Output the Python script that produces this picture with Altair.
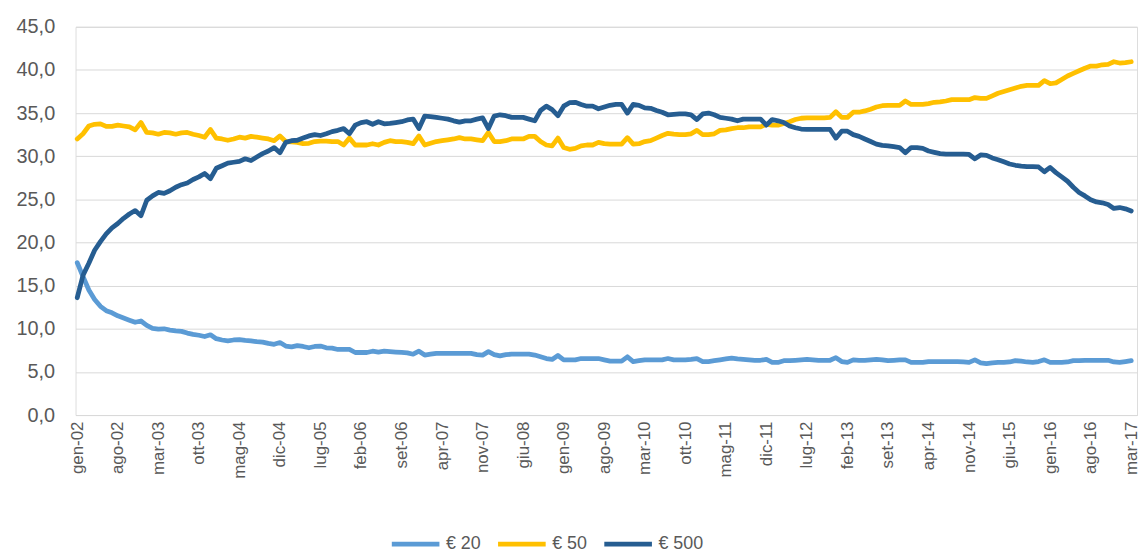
import altair as alt
import pandas as pd

# Month labels (Italian abbreviations), Jan 2002 .. Mar 2017
month_names = ["gen", "feb", "mar", "apr", "mag", "giu", "lug", "ago", "set", "ott", "nov", "dic"]
first_year = 2002
n_months = 183
labels = [f"{month_names[k % 12]}-{(first_year + k // 12) % 100:02d}" for k in range(n_months)]

series_names = ["€ 20", "€ 50", "€ 500"]
series_colors = ["#5B9BD5", "#FFC000", "#265D91"]

eur20 = [
    17.65, 16.05, 14.5, 13.4, 12.6, 12.1, 11.85, 11.5, 11.25, 11.0, 10.75, 10.9,
    10.4, 10.05, 9.95, 10.0, 9.85, 9.75, 9.7, 9.5, 9.35, 9.25, 9.1, 9.3,
    8.85, 8.7, 8.6, 8.7, 8.75, 8.65, 8.6, 8.5, 8.45, 8.3, 8.2, 8.4,
    8.0, 7.9, 8.05, 7.95, 7.8, 7.95, 8.0, 7.8, 7.75, 7.6, 7.6, 7.6,
    7.25, 7.25, 7.25, 7.4, 7.3, 7.4, 7.35, 7.3, 7.25, 7.2, 7.05, 7.4,
    6.95, 7.05, 7.15, 7.15, 7.15, 7.15, 7.15, 7.15, 7.15, 7.0, 6.95, 7.35,
    7.0, 6.85, 7.0, 7.05, 7.05, 7.05, 7.05, 6.95, 6.75, 6.55, 6.45, 6.9,
    6.4, 6.4, 6.4, 6.55, 6.55, 6.55, 6.55, 6.4, 6.25, 6.25, 6.25, 6.75,
    6.2, 6.3, 6.4, 6.4, 6.4, 6.4, 6.55, 6.4, 6.4, 6.4, 6.45, 6.55,
    6.2, 6.2, 6.3, 6.4, 6.5, 6.6, 6.5, 6.45, 6.4, 6.35, 6.35, 6.45,
    6.1, 6.1, 6.3, 6.3, 6.35, 6.4, 6.45, 6.4, 6.35, 6.35, 6.35, 6.65,
    6.2, 6.1, 6.4, 6.35, 6.35, 6.4, 6.45, 6.4, 6.3, 6.35, 6.4, 6.4,
    6.1, 6.1, 6.1, 6.2, 6.2, 6.2, 6.2, 6.2, 6.2, 6.15, 6.1, 6.4,
    6.05, 5.95, 6.05, 6.1, 6.1, 6.15, 6.3, 6.25, 6.15, 6.1, 6.2, 6.4,
    6.1, 6.1, 6.1, 6.15, 6.3, 6.3, 6.35, 6.35, 6.35, 6.35, 6.35, 6.15,
    6.1, 6.2, 6.3,
]

eur50 = [
    32.0, 32.6, 33.5, 33.7, 33.75, 33.45, 33.45, 33.6, 33.5, 33.4, 33.05, 33.9,
    32.75, 32.7, 32.55, 32.75, 32.7, 32.55, 32.7, 32.75, 32.55, 32.4, 32.2, 33.1,
    32.1, 32.0, 31.85, 32.0, 32.2, 32.1, 32.3, 32.2, 32.1, 32.0, 31.8, 32.35,
    31.7, 31.65, 31.6, 31.45, 31.5, 31.7, 31.75, 31.75, 31.7, 31.7, 31.3, 32.1,
    31.3, 31.3, 31.3, 31.45, 31.3, 31.6, 31.8, 31.7, 31.7, 31.6, 31.45, 32.35,
    31.3, 31.5, 31.7, 31.8, 31.9, 32.0, 32.15, 32.0, 32.0, 31.9, 31.8, 32.75,
    31.7, 31.7, 31.8, 32.0, 32.0, 32.0, 32.3, 32.3, 31.7, 31.3, 31.2, 32.1,
    31.0, 30.8, 30.9, 31.2, 31.3, 31.3, 31.6, 31.45, 31.4, 31.4, 31.4, 32.15,
    31.4, 31.45, 31.7, 31.8, 32.1, 32.4, 32.65, 32.55, 32.5, 32.5, 32.6, 33.0,
    32.5, 32.5, 32.6, 33.0, 33.05, 33.2, 33.3, 33.3, 33.4, 33.4, 33.4, 33.7,
    33.6, 33.6, 33.8, 34.0, 34.25, 34.4, 34.45, 34.45, 34.45, 34.45, 34.5, 35.15,
    34.5, 34.5, 35.1, 35.1, 35.25, 35.45, 35.7, 35.85, 35.9, 35.9, 35.9, 36.4,
    36.0, 36.0, 36.0, 36.1, 36.25, 36.3, 36.4, 36.55, 36.55, 36.55, 36.55, 36.8,
    36.7, 36.7, 37.0, 37.3, 37.5, 37.7, 37.9, 38.1, 38.2, 38.2, 38.2, 38.75,
    38.4, 38.5, 38.9, 39.3, 39.6, 39.9, 40.2, 40.45, 40.45, 40.6, 40.65, 40.95,
    40.8, 40.85, 40.95,
]

eur500 = [
    13.6, 16.2, 17.6, 19.1, 20.1, 21.0, 21.7, 22.2, 22.8, 23.3, 23.7, 23.1,
    24.9, 25.4, 25.8, 25.7, 26.0, 26.4, 26.7, 26.9, 27.3, 27.6, 28.0, 27.4,
    28.6, 28.9, 29.2, 29.3, 29.4, 29.7, 29.5, 29.9, 30.3, 30.6, 31.0, 30.4,
    31.6, 31.8, 31.85, 32.1, 32.35, 32.5, 32.4, 32.6, 32.85, 33.0, 33.2, 32.6,
    33.6, 33.9, 34.0, 33.7, 34.0, 33.75, 33.8, 33.9, 34.0, 34.2, 34.3, 33.2,
    34.65, 34.6, 34.5, 34.4, 34.3, 34.1, 33.95, 34.1, 34.1, 34.3, 34.45, 33.2,
    34.65, 34.8, 34.7, 34.5, 34.5, 34.5, 34.3, 34.1, 35.3, 35.8, 35.4, 34.7,
    35.8, 36.2, 36.25, 36.0, 35.8, 35.8, 35.5, 35.7, 35.9, 36.0, 36.0, 35.0,
    36.0, 35.9, 35.6, 35.55, 35.3, 35.1, 34.8, 34.85, 34.9, 34.9, 34.8, 34.25,
    34.9, 35.0, 34.8, 34.5, 34.4, 34.3, 34.1, 34.3, 34.3, 34.3, 34.3, 33.6,
    34.25, 34.1, 33.9, 33.5, 33.3, 33.15, 33.1, 33.1, 33.1, 33.1, 33.1, 32.1,
    32.9, 32.9, 32.5, 32.3, 32.0, 31.7, 31.4, 31.25, 31.2, 31.1, 31.0, 30.4,
    31.0, 31.0, 30.9, 30.6, 30.45, 30.3, 30.25, 30.25, 30.25, 30.25, 30.2, 29.7,
    30.15, 30.1, 29.8, 29.6, 29.35, 29.1, 28.95, 28.85, 28.8, 28.8, 28.75, 28.2,
    28.7, 28.1, 27.6, 27.1, 26.4, 25.8, 25.4, 24.95, 24.7, 24.6, 24.4, 23.95,
    24.05, 23.9, 23.65,
]

y_ticks = list(range(0, 50, 5))
x_tick_idx = list(range(0, n_months, 7))

rows = []
for name, vals in zip(series_names, [eur20, eur50, eur500]):
    for k, v in enumerate(vals):
        rows.append({"i": k, "v": v, "s": name})
df = pd.DataFrame(rows)

label_array = "[" + ",".join(f"'{t}'" for t in labels) + "]"

FONT = "Liberation Sans"
GREY = "#595959"

chart = alt.Chart(df).mark_line(strokeWidth=4.8, strokeJoin="round", strokeCap="round").encode(
    x=alt.X(
        "i:Q",
        scale=alt.Scale(domain=[-0.3, 183], nice=False, zero=False),
        axis=alt.Axis(
            values=x_tick_idx,
            labelExpr=label_array + "[datum.value]",
            labelAngle=-90,
            labelAlign="right",
            labelBaseline="middle",
            grid=False,
            ticks=False,
            domain=True,
            domainColor="#D9D9D9",
            labelFontSize=17,
            labelColor=GREY,
            labelFont=FONT,
            labelPadding=6,
            labelOverlap=False,
            labelBound=False,
            title=None,
        ),
    ),
    y=alt.Y(
        "v:Q",
        scale=alt.Scale(domain=[0, 45], nice=False),
        axis=alt.Axis(
            values=y_ticks,
            labelExpr="replace(format(datum.value, '.1f'), '.', ',')",
            grid=True,
            gridColor="#D9D9D9",
            gridWidth=1,
            ticks=False,
            domain=False,
            labelFontSize=20,
            labelColor=GREY,
            labelFont=FONT,
            labelPadding=21,
            title=None,
        ),
    ),
    color=alt.Color(
        "s:N",
        scale=alt.Scale(domain=series_names, range=series_colors),
        legend=alt.Legend(
            title=None,
            orient="none",
            legendX=316,
            legendY=494,
            direction="horizontal",
            symbolType="stroke",
            symbolStrokeWidth=4.8,
            symbolSize=2300,
            labelFontSize=18,
            labelColor=GREY,
            labelFont=FONT,
            columnPadding=6,
            labelOffset=4,
            padding=0,
        ),
    ),
).properties(
    width=1069,
    height=391,
    padding={"left": 68, "top": 17, "right": 3, "bottom": 137},
    autosize=alt.AutoSizeParams(type="none"),
).configure_view(stroke=None).configure(background="white")

chart.save("out.html", embed_options={"renderer": "svg", "actions": False})
